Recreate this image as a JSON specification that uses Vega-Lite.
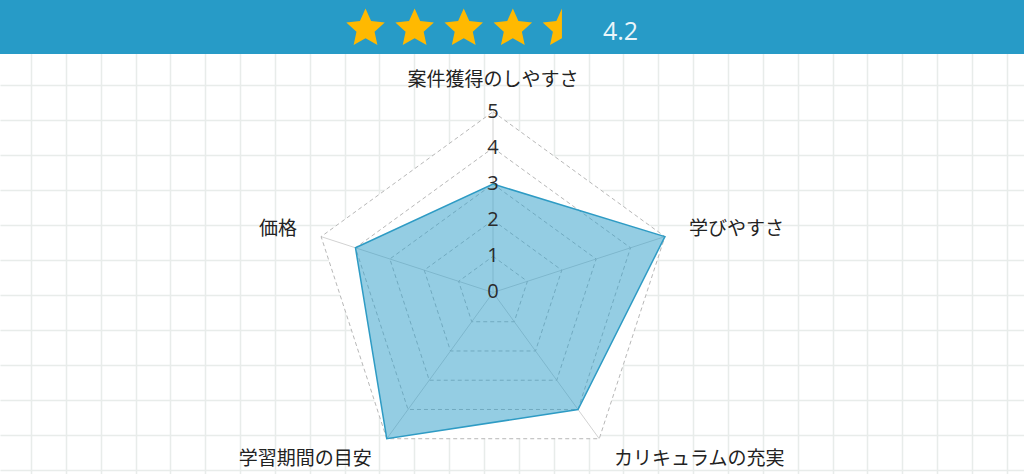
{
  "$schema": "https://vega.github.io/schema/vega-lite/v6.json",
  "width": 1024,
  "height": 474,
  "padding": 0,
  "autosize": {"type": "fit", "contains": "padding"},
  "background": "white",
  "config": {"view": {"stroke": null}},
  "datasets": {
    "scores": [
      {"k": 0, "axis": "案件獲得のしやすさ", "score": 3},
      {"k": 1, "axis": "学びやすさ", "score": 5},
      {"k": 2, "axis": "カリキュラムの充実", "score": 4},
      {"k": 3, "axis": "学習期間の目安", "score": 5},
      {"k": 4, "axis": "価格", "score": 4}
    ],
    "levels": [
      {"level": 0}, {"level": 1}, {"level": 2}, {"level": 3}, {"level": 4}, {"level": 5}
    ],
    "rings": [
      {"level": 1, "k": 0}, {"level": 1, "k": 1}, {"level": 1, "k": 2}, {"level": 1, "k": 3}, {"level": 1, "k": 4},
      {"level": 2, "k": 0}, {"level": 2, "k": 1}, {"level": 2, "k": 2}, {"level": 2, "k": 3}, {"level": 2, "k": 4},
      {"level": 3, "k": 0}, {"level": 3, "k": 1}, {"level": 3, "k": 2}, {"level": 3, "k": 3}, {"level": 3, "k": 4},
      {"level": 4, "k": 0}, {"level": 4, "k": 1}, {"level": 4, "k": 2}, {"level": 4, "k": 3}, {"level": 4, "k": 4},
      {"level": 5, "k": 0}, {"level": 5, "k": 1}, {"level": 5, "k": 2}, {"level": 5, "k": 3}, {"level": 5, "k": 4}
    ],
    "stars": [
      {"star": 1, "shape": "full"},
      {"star": 2, "shape": "full"},
      {"star": 3, "shape": "full"},
      {"star": 4, "shape": "full"},
      {"star": 5, "shape": "half"}
    ],
    "rating": [{"rating": 4.2}]
  },
  "resolve": {"scale": {"x": "independent", "y": "independent"}},
  "layer": [
    {
      "data": {"name": "rating"},
      "mark": {"type": "rect", "color": "#279bc7"},
      "encoding": {
        "x": {
          "datum": -0.8895,
          "type": "quantitative",
          "scale": {"domain": [-0.8895, 28.4935], "nice": false, "zero": false},
          "axis": {
            "values": [0, 1, 2, 3, 4, 5, 6, 7, 8, 9, 10, 11, 12, 13, 14, 15, 16, 17, 18, 19, 20, 21, 22, 23, 24, 25, 26, 27, 28],
            "grid": true, "gridColor": "#e8ecea", "gridWidth": 1.5,
            "labels": false, "ticks": false, "domain": false, "title": null,
            "minExtent": 0, "maxExtent": 0
          }
        },
        "x2": {"datum": 28.4935},
        "y": {
          "datum": -2.4095,
          "type": "quantitative",
          "scale": {"domain": [-2.4095, 11.1064], "nice": false, "zero": false, "reverse": true},
          "axis": {
            "values": [-2, -1, 0, 1, 2, 3, 4, 5, 6, 7, 8, 9, 10, 11],
            "grid": true, "gridColor": "#e8ecea", "gridWidth": 1.5,
            "labels": false, "ticks": false, "domain": false, "title": null,
            "minExtent": 0, "maxExtent": 0
          }
        },
        "y2": {"datum": -0.8697}
      }
    },
    {
      "layer": [
        {
          "data": {"name": "stars"},
          "mark": {"type": "point", "filled": true, "fill": "#ffb901", "opacity": 1, "strokeWidth": 0, "size": 1640},
          "encoding": {
            "x": {"field": "star", "type": "quantitative", "scale": {"domain": [-6.444, 14.41], "nice": false, "zero": false}, "axis": null},
            "y": {"datum": -1.59, "type": "quantitative", "scale": {"domain": [-2.4095, 11.1064], "nice": false, "zero": false, "reverse": true}, "axis": null},
            "shape": {
              "field": "shape",
              "type": "nominal",
              "scale": {
                "domain": ["full", "half"],
                "range": [
                  "M0,-1L0.276,-0.38L0.951,-0.309L0.447,0.145L0.588,0.809L0,0.47L-0.588,0.809L-0.447,0.145L-0.951,-0.309L-0.276,-0.38Z",
                  "M0,-1L0,0.47L-0.588,0.809L-0.447,0.145L-0.951,-0.309L-0.276,-0.38Z"
                ]
              },
              "legend": null
            }
          }
        },
        {
          "data": {"name": "rating"},
          "mark": {"type": "text", "align": "left", "baseline": "middle", "dx": 41, "font": "Open Sans", "fontSize": 25, "color": "#eaf5fa"},
          "encoding": {
            "x": {"datum": 5, "type": "quantitative", "scale": {"domain": [-6.444, 14.41], "nice": false, "zero": false}, "axis": null},
            "y": {"datum": -1.497, "type": "quantitative", "scale": {"domain": [-2.4095, 11.1064], "nice": false, "zero": false, "reverse": true}, "axis": null},
            "text": {"field": "rating", "format": ".1f"}
          }
        }
      ]
    },
    {
      "encoding": {
        "x": {"field": "x", "type": "quantitative", "scale": {"domain": [-13.638, 14.689], "nice": false, "zero": false}, "axis": null},
        "y": {"field": "y", "type": "quantitative", "scale": {"domain": [-5.021, 8.091], "nice": false, "zero": false}, "axis": null}
      },
      "layer": [
        {
          "data": {"name": "rings"},
          "transform": [
            {"filter": "datum.level == 5"},
            {"calculate": "PI / 2 - 2 * PI * datum.k / 5", "as": "angle"},
            {"calculate": "datum.level * cos(datum.angle)", "as": "x"},
            {"calculate": "datum.level * sin(datum.angle)", "as": "y"}
          ],
          "mark": {"type": "line", "interpolate": "linear-closed", "fill": "white", "strokeOpacity": 0},
          "encoding": {"order": {"field": "k"}}
        },
        {
          "data": {"name": "scores"},
          "transform": [
            {"calculate": "PI / 2 - 2 * PI * datum.k / 5", "as": "angle"},
            {"calculate": "5 * cos(datum.angle)", "as": "x"},
            {"calculate": "5 * sin(datum.angle)", "as": "y"}
          ],
          "mark": {"type": "rule", "color": "#d2d2d2", "strokeWidth": 1},
          "encoding": {"x2": {"datum": 0}, "y2": {"datum": 0}}
        },
        {
          "data": {"name": "rings"},
          "transform": [
            {"calculate": "PI / 2 - 2 * PI * datum.k / 5", "as": "angle"},
            {"calculate": "datum.level * cos(datum.angle)", "as": "x"},
            {"calculate": "datum.level * sin(datum.angle)", "as": "y"}
          ],
          "mark": {"type": "line", "interpolate": "linear-closed", "color": "#b8b8b8", "strokeWidth": 1, "strokeDash": [4, 3]},
          "encoding": {"order": {"field": "k"}, "detail": {"field": "level"}}
        },
        {
          "data": {"name": "scores"},
          "transform": [
            {"calculate": "PI / 2 - 2 * PI * datum.k / 5", "as": "angle"},
            {"calculate": "datum.score * cos(datum.angle)", "as": "x"},
            {"calculate": "datum.score * sin(datum.angle)", "as": "y"}
          ],
          "mark": {"type": "line", "interpolate": "linear-closed", "stroke": "#2e9bc4", "strokeWidth": 1.5, "fill": "#2a9bc8", "fillOpacity": 0.5},
          "encoding": {"order": {"field": "k"}}
        },
        {
          "data": {"name": "levels"},
          "transform": [
            {"calculate": "0", "as": "x"},
            {"calculate": "datum.level", "as": "y"}
          ],
          "mark": {"type": "text", "align": "center", "baseline": "middle", "font": "Open Sans", "fontSize": 20, "color": "#2b2b2b"},
          "encoding": {"text": {"field": "level"}}
        },
        {
          "data": {"name": "scores"},
          "transform": [
            {"filter": "datum.k == 0"},
            {"calculate": "PI / 2 - 2 * PI * datum.k / 5", "as": "angle"},
            {"calculate": "5.7 * cos(datum.angle)", "as": "x"},
            {"calculate": "5.7 * sin(datum.angle)", "as": "y"}
          ],
          "mark": {"type": "text", "align": "center", "baseline": "middle", "dy": -6.5, "font": "Noto Sans CJK JP", "fontSize": 19, "color": "#222222"},
          "encoding": {"text": {"field": "axis"}}
        },
        {
          "data": {"name": "scores"},
          "transform": [
            {"filter": "datum.k == 1 || datum.k == 2"},
            {"calculate": "PI / 2 - 2 * PI * datum.k / 5", "as": "angle"},
            {"calculate": "5.7 * cos(datum.angle)", "as": "x"},
            {"calculate": "5.7 * sin(datum.angle)", "as": "y"}
          ],
          "mark": {"type": "text", "align": "left", "baseline": "middle", "font": "Noto Sans CJK JP", "fontSize": 19, "color": "#222222"},
          "encoding": {"text": {"field": "axis"}}
        },
        {
          "data": {"name": "scores"},
          "transform": [
            {"filter": "datum.k == 3 || datum.k == 4"},
            {"calculate": "PI / 2 - 2 * PI * datum.k / 5", "as": "angle"},
            {"calculate": "5.7 * cos(datum.angle)", "as": "x"},
            {"calculate": "5.7 * sin(datum.angle)", "as": "y"}
          ],
          "mark": {"type": "text", "align": "right", "baseline": "middle", "font": "Noto Sans CJK JP", "fontSize": 19, "color": "#222222"},
          "encoding": {"text": {"field": "axis"}}
        }
      ]
    }
  ]
}
